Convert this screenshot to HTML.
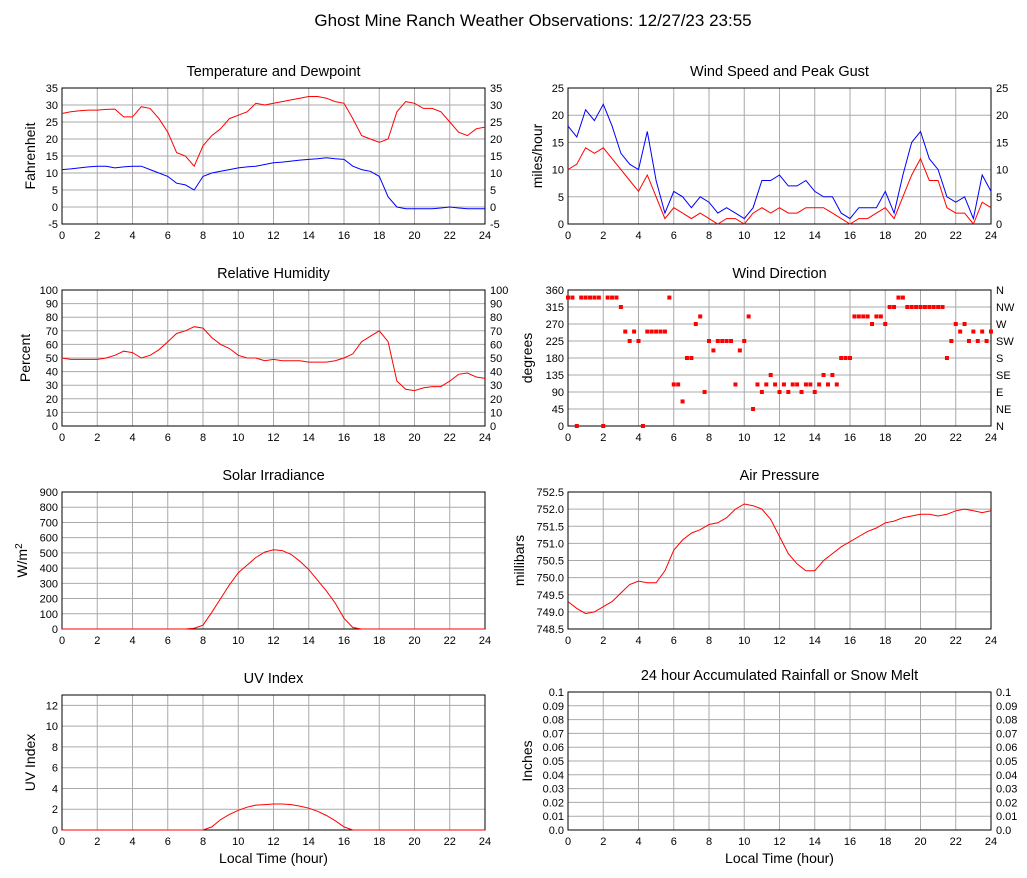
<!DOCTYPE html>
<html><head><meta charset="utf-8">
<style>
body{margin:0;background:#fff;}
svg{display:block;font-family:"Liberation Sans",sans-serif;}
</style></head>
<body>
<svg id="chart" width="1027" height="878" viewBox="0 0 1027 878" xmlns="http://www.w3.org/2000/svg">
<text x="533" y="26" font-size="17" text-anchor="middle">Ghost Mine Ranch Weather Observations: 12/27/23 23:55</text>
</svg>
<script>
// half-hourly data, hours 0..24
const hours = Array.from({length:49},(_,i)=>i*0.5);
const temperature = [27.5,28,28.3,28.5,28.5,28.7,28.8,26.5,26.5,29.5,29,26,22,16,15,12,18,21,23,26,27,28,30.5,30,30.5,31,31.5,32,32.5,32.5,32,31,30.5,26,21,20,19,20,28,31,30.5,29,29,28,25,22,21,23,23.5];
const dewpoint = [11,11.2,11.5,11.8,12,12,11.5,11.8,12,12,11,10,9,7,6.5,5,9,10,10.5,11,11.5,11.8,12,12.5,13,13.2,13.5,13.8,14,14.2,14.5,14.2,14,12,11,10.5,9,3,0,-0.5,-0.5,-0.5,-0.5,-0.3,0,-0.3,-0.5,-0.5,-0.5];
const windSpeed = [10,11,14,13,14,12,10,8,6,9,5,1,3,2,1,2,1,0,1,1,0,2,3,2,3,2,2,3,3,3,2,1,0,1,1,2,3,1,5,9,12,8,8,3,2,2,0,4,3];
const windGust = [18,16,21,19,22,18,13,11,10,17,8,2,6,5,3,5,4,2,3,2,1,3,8,8,9,7,7,8,6,5,5,2,1,3,3,3,6,2,9,15,17,12,10,5,4,5,1,9,6];
const humidity = [50,49,49,49,49,50,52,55,54,50,52,56,62,68,70,73,72,65,60,57,52,50,50,48,49,48,48,48,47,47,47,48,50,53,62,66,70,62,33,27,26,28,29,29,33,38,39,36,35];
const solar = [0,0,0,0,0,0,0,0,0,0,0,0,0,0,0,5,25,110,200,290,370,420,470,505,520,515,490,445,390,320,250,170,70,10,0,0,0,0,0,0,0,0,0,0,0,0,0,0,0];
const pressure = [749.3,749.1,748.95,749.0,749.15,749.3,749.55,749.8,749.9,749.85,749.85,750.2,750.8,751.1,751.3,751.4,751.55,751.6,751.75,752.0,752.15,752.1,752.0,751.7,751.2,750.7,750.4,750.2,750.2,750.5,750.7,750.9,751.05,751.2,751.35,751.45,751.6,751.65,751.75,751.8,751.85,751.85,751.8,751.85,751.95,752.0,751.95,751.9,751.95];
const uvIndex = [0,0,0,0,0,0,0,0,0,0,0,0,0,0,0,0,0,0.3,1.0,1.5,1.9,2.2,2.4,2.45,2.5,2.5,2.45,2.3,2.1,1.8,1.4,0.9,0.3,0,0,0,0,0,0,0,0,0,0,0,0,0,0,0,0];
// wind direction, quarter-hourly
const dirHours = Array.from({length:97},(_,i)=>i*0.25);
const windDir = [340,340,0,340,340,340,340,340,0,340,340,340,
315,250,225,250,225,0,250,250,250,250,250,340,
110,110,65,180,180,270,290,90,225,200,225,225,
225,225,110,200,225,290,45,110,90,110,135,110,
90,110,90,110,110,90,110,110,90,110,135,110,
135,110,180,180,180,290,290,290,290,270,290,290,
270,315,315,340,340,315,315,315,315,315,315,315,
315,315,180,225,270,250,270,225,250,225,250,225,250];
const xTicks = [0,2,4,6,8,10,12,14,16,18,20,22,24];
const dirLabels = ["N","NE","E","SE","S","SW","W","NW","N"];

const svg = document.getElementById('chart');
const NS='http://www.w3.org/2000/svg';
function mk(tag, attrs, parent){const e=document.createElementNS(NS,tag);for(const k in attrs)e.setAttribute(k,attrs[k]);(parent||svg).appendChild(e);return e;}

function panel(cfg){
  const g = mk('g',{});
  
  
  const X = h => cfg.x0 + (h/24)*(cfg.x1-cfg.x0);
  const Y = v => cfg.y1 - (v-cfg.ymin)/(cfg.ymax-cfg.ymin)*(cfg.y1-cfg.y0);
  xTicks.forEach(t=>{
    mk('line',{x1:X(t),x2:X(t),y1:cfg.y0,y2:cfg.y1,stroke:'#aaa','stroke-width':1},g);
    const tl = mk('text',{x:X(t),y:cfg.y1+15,'font-size':11,'text-anchor':'middle'},g);
    tl.textContent = t;
    
    
  });
  cfg.yTicks.forEach((t,i)=>{
    mk('line',{x1:cfg.x0,x2:cfg.x1,y1:Y(t),y2:Y(t),stroke:'#aaa','stroke-width':1},g);
    const l = mk('text',{x:cfg.x0-4,y:Y(t)+4,'font-size':11,'text-anchor':'end'},g);
    l.textContent = cfg.fmt ? cfg.fmt(t) : t;
    
    
    if(cfg.right){
      const r = mk('text',{x:cfg.x1+5,y:Y(t)+4,'font-size':11,'text-anchor':'start'},g);
      r.textContent = cfg.right===true ? (cfg.fmt?cfg.fmt(t):t) : cfg.right[i];
      
      
    }
  });
  mk('rect',{x:cfg.x0,y:cfg.y0,width:cfg.x1-cfg.x0,height:cfg.y1-cfg.y0,fill:'none',stroke:'#000','stroke-width':1},g);
  const title = mk('text',{x:(cfg.x0+cfg.x1)/2,y:cfg.y0-12,'font-size':14.5,'text-anchor':'middle'},g);
  title.textContent = cfg.title;
  
  
  const yc=(cfg.y0+cfg.y1)/2;
  const yt = mk('text',{x:cfg.ylx,y:yc,'font-size':14,'text-anchor':'middle',transform:`rotate(-90 ${cfg.ylx} ${yc})`},g);
  if(cfg.ylabelHTML){yt.innerHTML=cfg.ylabelHTML;} else yt.textContent = cfg.ylabel;
  
  
  (cfg.series||[]).forEach(s=>{
    const d = s.ys.map((v,i)=>(i?'L':'M')+X(s.xs[i]).toFixed(1)+','+Y(v).toFixed(1)).join('');
    const p = mk('path',{d:d,fill:'none',stroke:s.color,'stroke-width':1},g);
    
    
  });
  if(cfg.points){
    cfg.points.ys.forEach((v,i)=>{
      const r = mk('rect',{x:X(cfg.points.xs[i])-2,y:Y(v)-2,width:4,height:4,fill:'red'},g);
      
      
    });
  }
  if(cfg.xTitle){
    const xt = mk('text',{x:(cfg.x0+cfg.x1)/2,y:cfg.y1+33,'font-size':14,'text-anchor':'middle'},g);
    xt.textContent='Local Time (hour)';
    
    
  }
}
const rng=(a,b,s)=>{const r=[];for(let v=a;v<=b+1e-9;v+=s)r.push(+v.toFixed(3));return r;};
const L={x0:62,x1:485}, R={x0:568,x1:991};
panel({...L,name:'temperature-panel',y0:88,y1:224,ymin:-5,ymax:35,yTicks:rng(-5,35,5),right:true,title:'Temperature and Dewpoint',ylabel:'Fahrenheit',ylx:35,
  series:[{xs:hours,ys:temperature,color:'red',name:'temperature-line'},{xs:hours,ys:dewpoint,color:'blue',name:'dewpoint-line'}]});
panel({...R,name:'wind-speed-panel',y0:88,y1:224,ymin:0,ymax:25,yTicks:rng(0,25,5),right:true,title:'Wind Speed and Peak Gust',ylabel:'miles/hour',ylx:542,
  series:[{xs:hours,ys:windGust,color:'blue',name:'gust-line'},{xs:hours,ys:windSpeed,color:'red',name:'speed-line'}]});
panel({...L,name:'humidity-panel',y0:290,y1:426,ymin:0,ymax:100,yTicks:rng(0,100,10),right:true,title:'Relative Humidity',ylabel:'Percent',ylx:30,
  series:[{xs:hours,ys:humidity,color:'red',name:'humidity-line'}]});
panel({...R,name:'wind-direction-panel',y0:290,y1:426,ymin:0,ymax:360,yTicks:rng(0,360,45),right:dirLabels,title:'Wind Direction',ylabel:'degrees',ylx:532,
  points:{xs:dirHours,ys:windDir}});
panel({...L,name:'solar-panel',y0:492,y1:629,ymin:0,ymax:900,yTicks:rng(0,900,100),title:'Solar Irradiance',ylabelHTML:'W/m<tspan dy="-5" font-size="10">2</tspan>',ylx:27,
  series:[{xs:hours,ys:solar,color:'red',name:'solar-line'}]});
panel({...R,name:'pressure-panel',y0:492,y1:629,ymin:748.5,ymax:752.5,yTicks:rng(748.5,752.5,0.5),fmt:v=>v.toFixed(1),title:'Air Pressure',ylabel:'millibars',ylx:524,
  series:[{xs:hours,ys:pressure,color:'red',name:'pressure-line'}]});
panel({...L,name:'uv-panel',y0:695,y1:830,ymin:0,ymax:13,yTicks:rng(0,12,2),title:'UV Index',ylabel:'UV Index',ylx:35,xTitle:true,
  series:[{xs:hours,ys:uvIndex,color:'red',name:'uv-line'}]});
panel({...R,name:'rainfall-panel',y0:692,y1:830,ymin:0,ymax:0.1,yTicks:rng(0,0.1,0.01),fmt:v=>v===0?'0.0':String(+v.toFixed(2)),right:true,title:'24 hour Accumulated Rainfall or Snow Melt',ylabel:'Inches',ylx:532,xTitle:true,series:[]});
</script>
</body></html>
